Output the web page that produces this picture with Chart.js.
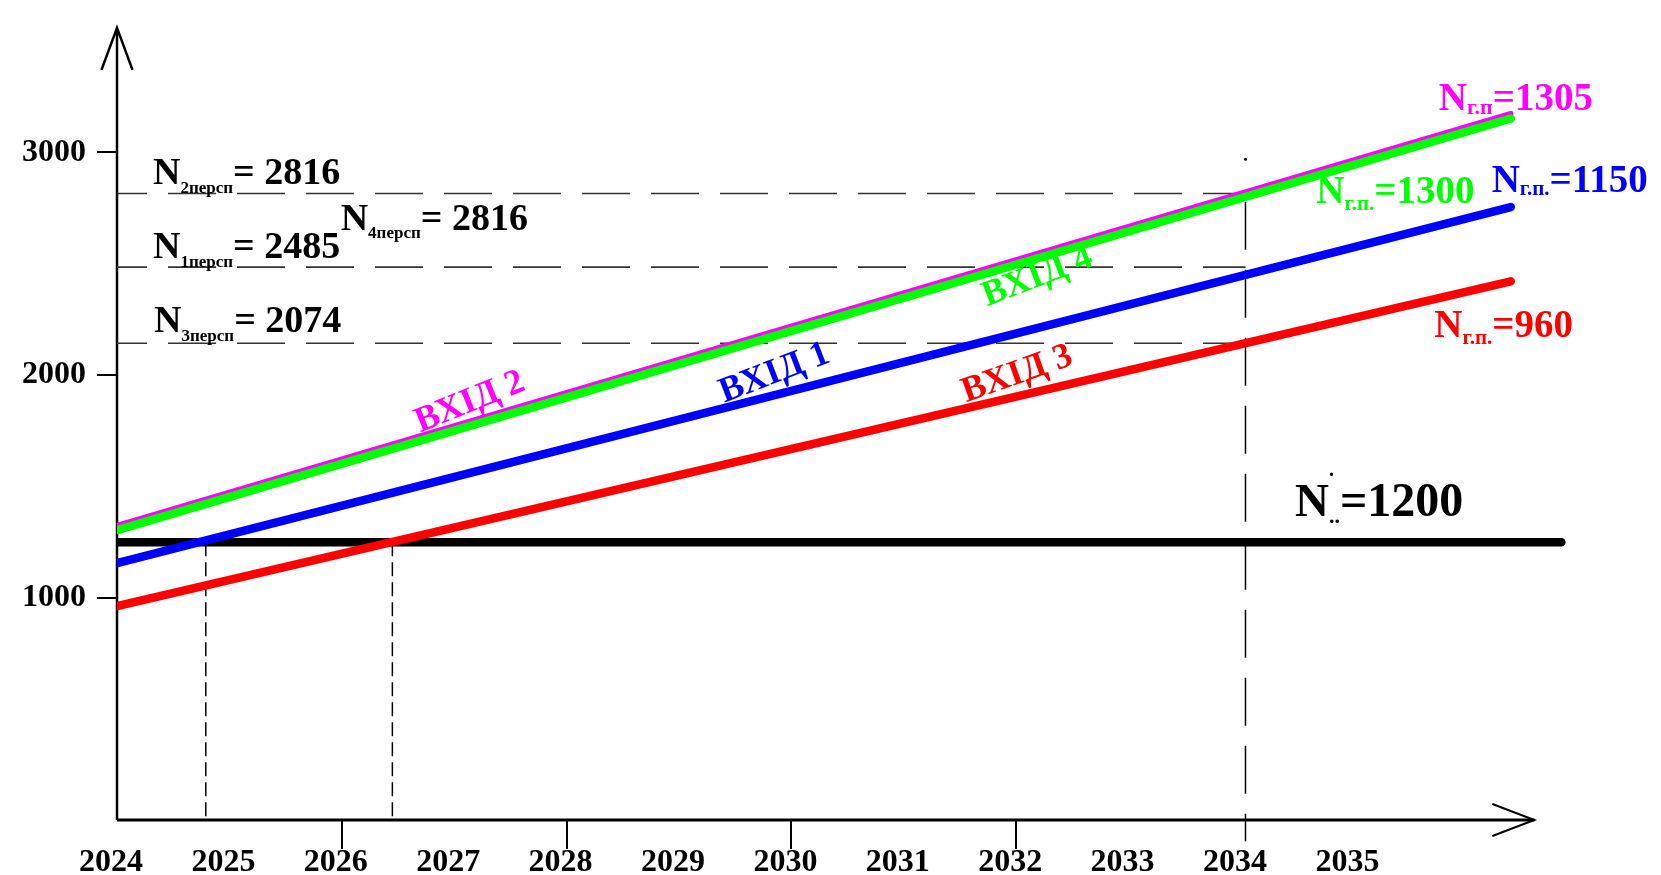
<!DOCTYPE html>
<html>
<head>
<meta charset="utf-8">
<script src="https://cdn.jsdelivr.net/npm/chart.js@4.4.1/dist/chart.umd.min.js"></script>
<style>
  html, body { margin: 0; padding: 0; background: #fff; }
  #wrap { width: 1661px; height: 875px; position: relative; }
</style>
</head>
<body>
<div id="wrap"><canvas id="chart"></canvas></div>
<script>
// data
var years = [2024, 2025, 2026, 2027, 2028, 2029, 2030, 2031, 2032, 2033, 2034, 2035];
var markedYears = [2026, 2028, 2030, 2032];
var yTicks = [1000, 2000, 3000];

var lineX = [2024, 2036.4];
var entry1 = [1155, 2755];   // ВХІД 1, blue
var entry2 = [1323, 3175];   // ВХІД 2, magenta
var entry3 = [961, 2421];    // ВХІД 3, red
var entry4 = [1303, 3153];   // ВХІД 4, green

var limitX = [2024, 2036.85];
var limitValue = 1248;       // N = 1200 line

var perspLevels = [2816, 2485, 2143];
var perspEnd = 2034.04;
var crossYears = [2024.79, 2026.45];
var markYear = 2034.04;
var markRange = [2779, -95];
var markDot = 2970;

var entryNames = ['ВХІД 1', 'ВХІД 2', 'ВХІД 3', 'ВХІД 4'];
var colors = ['#0000ff', '#ff00ff', '#ff0000', '#00ff00'];

// text notes: anchor in data units, parts = [text, size, dy, noAdvance]
var notes = [
  { x: 2024.32, y: 2858, color: '#000', parts: [['N', 38], ['2персп', 17, 9], ['= 2816', 38]] },
  { x: 2024.32, y: 2527, color: '#000', parts: [['N', 38], ['1персп', 17, 9], ['= 2485', 38]] },
  { x: 2024.33, y: 2193, color: '#000', parts: [['N', 38], ['3персп', 17, 9], ['= 2074', 38]] },
  { x: 2025.99, y: 2653, color: '#000', parts: [['N', 38], ['4персп', 17, 8], ['= 2816', 38]] },
  { x: 2035.76, y: 3193, color: '#ff00ff', parts: [['N', 39], ['г.п', 22, 4], ['=1305', 39]] },
  { x: 2034.67, y: 2771, color: '#00ff00', parts: [['N', 39], ['г.п.', 21, 7], ['=1300', 39]] },
  { x: 2036.23, y: 2823, color: '#0000ff', parts: [['N', 39], ['г.п.', 21, 3], ['=1150', 39]] },
  { x: 2035.72, y: 2170, color: '#ff0000', parts: [['N', 39], ['г.п.', 21, 7], ['=960', 39]] },
  { x: 2034.48, y: 1368, color: '#000', parts: [['N', 47], ['.', 20, -40, true], ['..', 22, 7], ['=1200', 48]] }
];
// rotated entry labels: [x, y, angle deg]
var entryLabelPos = [[2029.85, 2007, 21], [2027.14, 1877, 22], [2032.01, 2003, 19.5], [2032.19, 2440, 21]];

var serif = '"Liberation Serif", "Times New Roman", serif';

function seg(xs, ys) {
  return xs.map(function(x, i) { return { x: x, y: ys[i] }; });
}

var datasets = [];
// drawn on top first: green, magenta, blue, red, black
[3, 1, 0, 2].forEach(function(i) {
  var vals = [entry1, entry2, entry3, entry4][i];
  datasets.push({
    label: entryNames[i],
    data: seg(lineX, vals),
    borderColor: colors[i],
    borderWidth: i === 1 ? 5.5 : 8.5,
    borderCapStyle: 'round',
    pointRadius: 0
  });
});
datasets.push({
  label: 'N',
  data: seg(limitX, [limitValue, limitValue]),
  borderColor: '#000',
  borderWidth: 8.5,
  borderCapStyle: 'round',
  pointRadius: 0
});
perspLevels.forEach(function(v) {
  datasets.push({
    data: seg([2024, perspEnd], [v, v]),
    borderColor: '#333',
    borderWidth: 1.6,
    borderDash: [48, 21],
    borderDashOffset: 18,
    pointRadius: 0
  });
});
crossYears.forEach(function(x) {
  datasets.push({
    data: seg([x, x], [limitValue, 0]),
    borderColor: '#000',
    borderWidth: 1.5,
    borderDash: [14, 6],
    pointRadius: 0
  });
});
datasets.push({
  data: seg([markYear, markYear], markRange),
  borderColor: '#000',
  borderWidth: 1.5,
  borderDash: [48, 20],
  pointRadius: 0,
  clip: false
});
datasets.push({
  data: [{ x: markYear, y: markDot }],
  showLine: false,
  pointRadius: 1.5,
  pointBackgroundColor: '#000',
  pointBorderWidth: 0
});

var decor = {
  id: 'decor',
  beforeDatasetsDraw: function(chart) {
    var ctx = chart.ctx;
    var xs = chart.scales.x, ys = chart.scales.y;
    var x0 = xs.getPixelForValue(2024), y0 = ys.getPixelForValue(0);
    var yTop = ys.getPixelForValue(3560);
    var xEnd = xs.getPixelForValue(2036.61);
    ctx.save();
    ctx.strokeStyle = '#000';
    ctx.lineWidth = 2.5;
    ctx.beginPath();
    ctx.moveTo(x0, y0); ctx.lineTo(x0, yTop);
    ctx.moveTo(x0 - 15.5, yTop + 42); ctx.lineTo(x0, yTop); ctx.lineTo(x0 + 15.5, yTop + 42);
    ctx.stroke();
    ctx.lineWidth = 3;
    ctx.beginPath();
    ctx.moveTo(x0, y0); ctx.lineTo(xEnd, y0);
    ctx.stroke();
    ctx.lineWidth = 2;
    ctx.beginPath();
    ctx.moveTo(xEnd - 42, y0 - 16); ctx.lineTo(xEnd, y0); ctx.lineTo(xEnd - 42, y0 + 16);
    ctx.stroke();
    ctx.restore();
  },
  afterDatasetsDraw: function(chart) {
    var ctx = chart.ctx;
    var xs = chart.scales.x, ys = chart.scales.y;
    ctx.save();
    ctx.textAlign = 'left';
    ctx.textBaseline = 'alphabetic';
    notes.forEach(function(n) {
      var px = xs.getPixelForValue(n.x), py = ys.getPixelForValue(n.y);
      ctx.fillStyle = n.color;
      n.parts.forEach(function(p) {
        ctx.font = 'bold ' + p[1] + 'px ' + serif;
        ctx.fillText(p[0], px, py + (p[2] || 0));
        if (!p[3]) px += ctx.measureText(p[0]).width;
      });
    });
    ctx.textAlign = 'center';
    ctx.textBaseline = 'middle';
    ctx.font = 'bold 36px ' + serif;
    entryLabelPos.forEach(function(p, i) {
      ctx.save();
      ctx.translate(xs.getPixelForValue(p[0]), ys.getPixelForValue(p[1]));
      ctx.rotate(-p[2] * Math.PI / 180);
      ctx.fillStyle = colors[i];
      ctx.fillText(entryNames[i], 0, 0);
      ctx.restore();
    });
    ctx.restore();
  }
};

new Chart(document.getElementById('chart'), {
  type: 'line',
  data: { datasets: datasets },
  options: {
    responsive: true,
    maintainAspectRatio: false,
    animation: false,
    devicePixelRatio: 1,
    layout: { padding: { top: 19, right: 82.8, bottom: 0, left: 0 } },
    plugins: { legend: { display: false }, tooltip: { enabled: false } },
    elements: { line: { tension: 0, fill: false } },
    scales: {
      x: {
        type: 'linear',
        min: 2024,
        max: 2037,
        afterBuildTicks: function(scale) {
          scale.ticks = years.map(function(v) { return { value: v }; });
        },
        afterFit: function(scale) { scale.height = 55; },
        border: { display: false },
        grid: {
          drawOnChartArea: false,
          tickLength: 29,
          lineWidth: 2,
          color: function(c) {
            return c.tick && markedYears.indexOf(c.tick.value) >= 0 ? '#000' : 'rgba(0,0,0,0)';
          }
        },
        ticks: {
          autoSkip: false,
          maxRotation: 0,
          padding: -5,
          labelOffset: -6,
          color: '#000',
          font: { family: serif, size: 32, weight: 'bold' },
          callback: function(v) { return String(v); }
        }
      },
      y: {
        min: 0,
        max: 3600,
        afterBuildTicks: function(scale) {
          scale.ticks = yTicks.map(function(v) { return { value: v }; });
        },
        afterFit: function(scale) {
          scale.width = 117;
          scale.paddingTop = 0;
          scale.paddingBottom = 0;
        },
        border: { display: false },
        grid: { drawOnChartArea: false, tickLength: 20, lineWidth: 2, color: '#000' },
        ticks: {
          padding: 11,
          color: '#000',
          font: { family: serif, size: 32, weight: 'bold' },
          callback: function(v) { return String(v); }
        }
      }
    }
  },
  plugins: [decor]
});
</script>
</body>
</html>
